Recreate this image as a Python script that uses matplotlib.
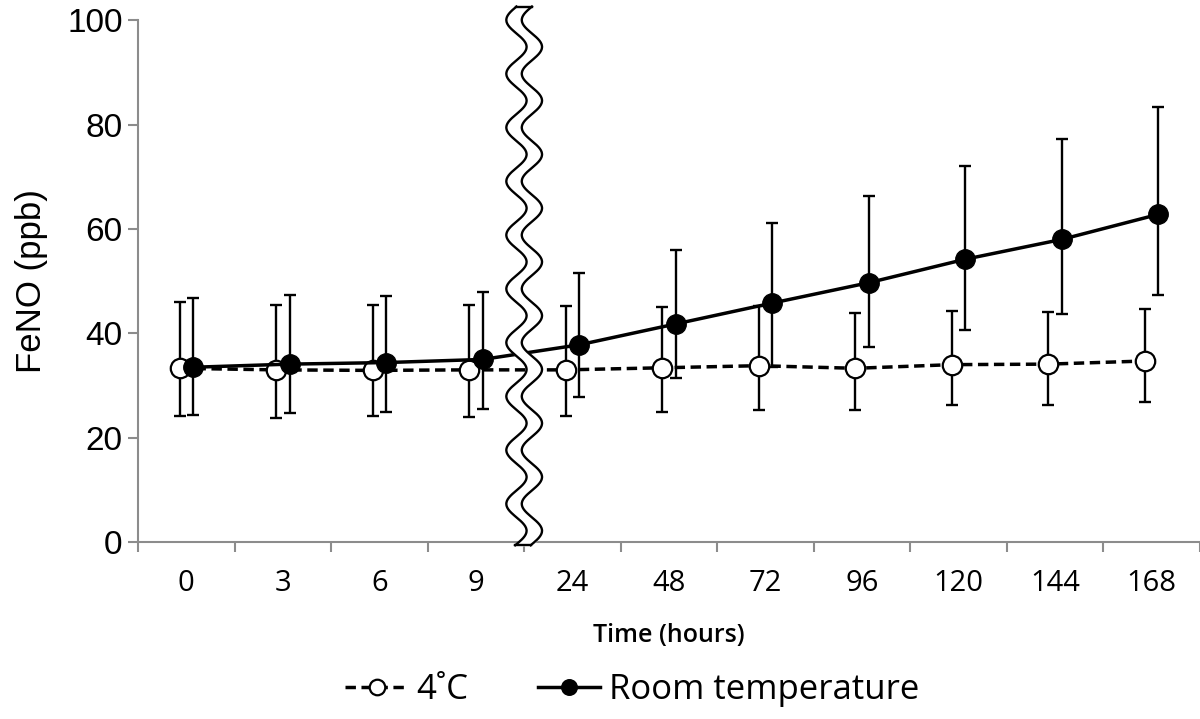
import numpy as np
import matplotlib.pyplot as plt

# time points (categorical axis)
hours = ['0', '3', '6', '9', '24', '48', '72', '96', '120', '144', '168']

# 4 C series
cold_mean = [33.3, 33.0, 32.9, 33.0, 33.0, 33.4, 33.8, 33.3, 34.0, 34.1, 34.7]
cold_hi = [46.0, 45.4, 45.4, 45.4, 45.2, 45.1, 45.2, 43.9, 44.3, 44.1, 44.6]
cold_lo = [24.1, 23.8, 24.1, 24.0, 24.2, 25.0, 25.3, 25.3, 26.2, 26.2, 26.8]

# room temperature series
room_mean = [33.5, 34.1, 34.4, 35.0, 37.8, 41.8, 45.8, 49.7, 54.2, 58.0, 62.8]
room_hi = [46.7, 47.3, 47.2, 48.0, 51.5, 56.0, 61.2, 66.3, 72.0, 77.2, 83.3]
room_lo = [24.3, 24.7, 25.0, 25.5, 27.8, 31.5, 33.5, 37.3, 40.7, 43.7, 47.3]

x = np.arange(len(hours))
off = 0.07

fig = plt.figure(figsize=(12, 7.19), dpi=100)
ax = fig.add_axes([0.115, 0.246, 0.885, 0.726])

cold_err = [np.subtract(cold_mean, cold_lo), np.subtract(cold_hi, cold_mean)]
room_err = [np.subtract(room_mean, room_lo), np.subtract(room_hi, room_mean)]

ax.errorbar(x - off, cold_mean, yerr=cold_err, fmt='none', ecolor='black',
            elinewidth=1.7, capsize=4.3, capthick=1.7, zorder=2)
ax.errorbar(x + off, room_mean, yerr=room_err, fmt='none', ecolor='black',
            elinewidth=1.7, capsize=4.3, capthick=1.7, zorder=2)
l1, = ax.plot(x - off, cold_mean, linestyle=(0, (3, 1.6)), color='black', lw=2.5,
              marker='o', ms=14, mfc='white', mec='black', mew=1.6, zorder=3)
l2, = ax.plot(x + off, room_mean, linestyle='-', color='black', lw=2.5,
              marker='o', ms=14, mfc='black', mec='black', zorder=4)

# axis break between 9 h and 24 h (wavy double line)
ytop, ybot = 102.6, -0.6
yy = np.linspace(ytop, ybot, 600)
wave = -0.105 * np.sin(2 * np.pi * (ytop - yy) / 10.3)
xl = 3.5 - 0.08 + wave
xr = 3.5 + 0.08 + wave
ax.fill_betweenx(yy, xl, xr, color='white', zorder=6, clip_on=False)
ax.plot(xl, yy, color='black', lw=1.7, zorder=7, clip_on=False)
ax.plot(xr, yy, color='black', lw=1.7, zorder=7, clip_on=False)
ax.plot([xl[0], xr[0]], [ytop, ytop], color='black', lw=1.7, zorder=7, clip_on=False)
ax.plot([xl[-1], xr[-1]], [ybot, ybot], color='black', lw=1.7, zorder=7, clip_on=False)

ax.set_xlim(-0.5, 10.5)
ax.set_ylim(0, 100)

for s in ['top', 'right']:
    ax.spines[s].set_visible(False)
for s in ['left', 'bottom']:
    ax.spines[s].set_color('#8c8c8c')
    ax.spines[s].set_linewidth(1.5)

ax.set_yticks([0, 20, 40, 60, 80, 100])
ax.tick_params(axis='y', length=7, width=1.5, color='#8c8c8c', labelsize=24, pad=4)
for t in ax.get_yticklabels():
    t.set_fontfamily('Liberation Sans')

ax.set_xticks(np.arange(-0.5, 11, 1))
ax.set_xticklabels([])
ax.tick_params(axis='x', which='major', length=7, width=1.5, color='#8c8c8c')
ax.set_xticks(x, minor=True)
ax.set_xticklabels(hours, minor=True, fontfamily='Open Sans', fontsize=21)
ax.tick_params(axis='x', which='minor', length=0, pad=19)

ax.set_ylabel('FeNO (ppb)', fontfamily='Liberation Sans', fontsize=25, labelpad=14)
ax.set_xlabel('Time (hours)', fontfamily='Open Sans', fontsize=18, fontweight='semibold',
              labelpad=18)

fig.legend([l1, l2], ['4\u02daC', 'Room temperature'], loc='center', bbox_to_anchor=(0.527, 0.04),
           ncol=2, frameon=False, prop={'family': 'Open Sans', 'size': 25},
           handlelength=1.8, columnspacing=2.0, handletextpad=0.25, markerscale=0.8)

fig.savefig('out.png', dpi=100)
